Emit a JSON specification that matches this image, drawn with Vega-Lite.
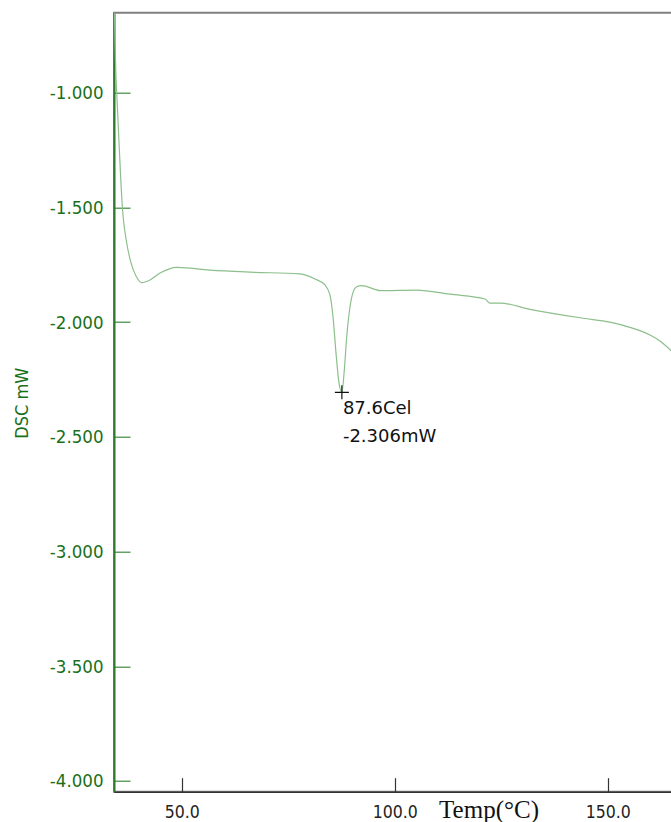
{
  "$schema": "https://vega.github.io/schema/vega-lite/v6.json",
  "width": 558,
  "height": 779,
  "autosize": "none",
  "padding": {"left": 114, "top": 12.7, "right": 0, "bottom": 30.3},
  "background": "white",
  "config": {
    "view": {"stroke": "#808080", "strokeWidth": 2},
    "axis": {"grid": false}
  },
  "datasets": {
    "curve": [
      {"T": 34.18, "v": -0.62},
      {"T": 34.35, "v": -0.78},
      {"T": 34.51, "v": -0.901},
      {"T": 34.74, "v": -1.0},
      {"T": 35.28, "v": -1.219},
      {"T": 36.06, "v": -1.498},
      {"T": 37.09, "v": -1.655},
      {"T": 38.10, "v": -1.742},
      {"T": 39.27, "v": -1.799},
      {"T": 40.61, "v": -1.828},
      {"T": 42.56, "v": -1.816},
      {"T": 44.91, "v": -1.786},
      {"T": 48.83, "v": -1.761},
      {"T": 56.64, "v": -1.773},
      {"T": 66.03, "v": -1.782},
      {"T": 77.77, "v": -1.790},
      {"T": 81.29, "v": -1.812},
      {"T": 83.64, "v": -1.838},
      {"T": 84.81, "v": -1.882},
      {"T": 85.59, "v": -1.991},
      {"T": 86.22, "v": -2.135},
      {"T": 86.92, "v": -2.265},
      {"T": 87.6, "v": -2.306},
      {"T": 88.17, "v": -2.209},
      {"T": 88.73, "v": -2.065},
      {"T": 89.51, "v": -1.933},
      {"T": 90.28, "v": -1.867},
      {"T": 91.08, "v": -1.846},
      {"T": 92.25, "v": -1.841},
      {"T": 95.38, "v": -1.857},
      {"T": 96.55, "v": -1.863},
      {"T": 105.16, "v": -1.860},
      {"T": 112.98, "v": -1.878},
      {"T": 121.20, "v": -1.899},
      {"T": 122.37, "v": -1.917},
      {"T": 124.72, "v": -1.917},
      {"T": 131.76, "v": -1.944},
      {"T": 144.27, "v": -1.983},
      {"T": 150.54, "v": -2.000},
      {"T": 155.24, "v": -2.023},
      {"T": 159.93, "v": -2.056},
      {"T": 162.28, "v": -2.082},
      {"T": 165.1, "v": -2.128}
    ],
    "peak": [
      {"T": 87.6, "v": -2.306, "label": "87.6Cel\n-2.306mW"}
    ]
  },
  "layer": [
    {
      "data": {"name": "curve"},
      "mark": {"type": "line", "color": "#8cbf8c", "strokeWidth": 1.2, "clip": true, "interpolate": "monotone"},
      "encoding": {
        "x": {
          "field": "T", "type": "quantitative",
          "scale": {"domain": [34.1, 165.1], "nice": false, "zero": false},
          "axis": {
            "values": [50, 100, 150], "format": ".1f",
            "domainColor": "#333333", "domainWidth": 1.5,
            "tickColor": "#333333", "tickSize": -14, "tickWidth": 1.2,
            "labelPadding": 43.5, "labelFont": "DejaVu Sans Condensed", "labelFontSize": 17.5,
            "labelColor": "#222222", "labelBaseline": "bottom",
            "title": "Temp(°C)", "titleFont": "Liberation Serif", "titleFontSize": 25,
            "titleFontWeight": "normal", "titleColor": "#111111",
            "titleX": 374.5, "titleY": 26, "titleAlign": "center", "titleBaseline": "alphabetic"
          }
        },
        "y": {
          "field": "v", "type": "quantitative",
          "scale": {"domain": [-4.047, -0.651], "nice": false, "zero": false},
          "axis": {
            "values": [-4, -3.5, -3, -2.5, -2, -1.5, -1],
            "labelExpr": "replace(format(datum.value, '.3f'), '\u2212', '-')",
            "domainColor": "#2e7a2e", "domainWidth": 2,
            "tickColor": "#3d8a3d", "tickSize": -16, "tickWidth": 1.2,
            "labelPadding": 27, "labelFont": "DejaVu Sans Condensed", "labelFontSize": 18.5,
            "labelColor": "#1a701a",
            "title": "DSC mW", "titleFont": "DejaVu Sans Condensed", "titleFontSize": 18,
            "titleFontWeight": "normal", "titleColor": "#1a701a",
            "titleX": -92, "titleY": 390, "titleAlign": "center", "titleBaseline": "middle", "titleAngle": -90
          }
        }
      }
    },
    {
      "data": {"name": "peak"},
      "mark": {"type": "point", "shape": "M-1,0L1,0M0,-1L0,1", "filled": false, "stroke": "#111111", "strokeWidth": 1.2, "size": 196, "opacity": 1},
      "encoding": {
        "x": {"field": "T", "type": "quantitative"},
        "y": {"field": "v", "type": "quantitative"}
      }
    },
    {
      "data": {"name": "peak"},
      "mark": {"type": "text", "align": "left", "baseline": "alphabetic", "dx": 1, "dy": 22, "lineBreak": "\n", "lineHeight": 28, "font": "DejaVu Sans", "fontSize": 18, "color": "#111111"},
      "encoding": {
        "x": {"field": "T", "type": "quantitative"},
        "y": {"field": "v", "type": "quantitative"},
        "text": {"field": "label"}
      }
    }
  ]
}
